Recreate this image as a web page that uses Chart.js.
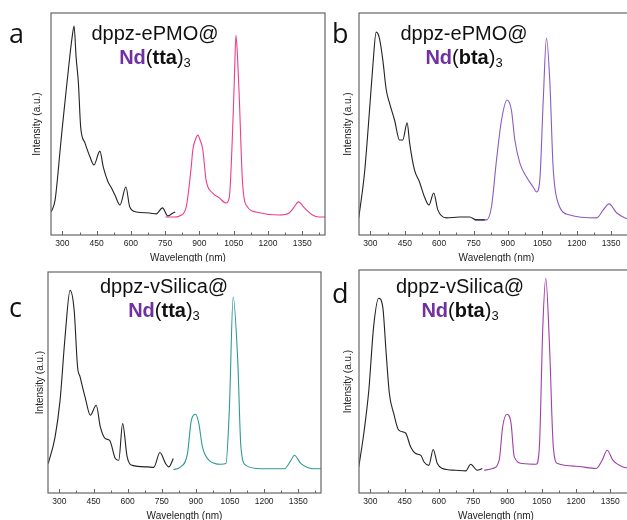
<!DOCTYPE html>
<html>
<head>
<meta charset="utf-8">
<script src="https://cdn.jsdelivr.net/npm/chart.js@4.4.1/dist/chart.umd.min.js"></script>
<style>
html, body { margin: 0; padding: 0; background: #fff; width: 627px; height: 520px; overflow: hidden; position: relative; }
.box { position: absolute; overflow: hidden; }
</style>
</head>
<body>
<div class="box" style="left:0;top:0;width:335px;height:262px"><canvas id="chartA" width="335" height="266"></canvas></div>
<div class="box" style="left:310px;top:0;width:330px;height:262px"><canvas id="chartB" width="330" height="266"></canvas></div>
<div class="box" style="left:0;top:262px;width:335px;height:261px"><canvas id="chartC" width="335" height="261"></canvas></div>
<div class="box" style="left:310px;top:262px;width:330px;height:261px"><canvas id="chartD" width="330" height="261"></canvas></div>
<script>
// x axis ticks (nm): labelled every 150, small ticks in between
const xTicks = [300, 375, 450, 525, 600, 675, 750, 825, 900, 975, 1050, 1125, 1200, 1275, 1350, 1425];

// a: dppz-ePMO@Nd(tta)3
const waveA_uv = [251, 268, 290, 297, 312, 334, 342, 351, 360, 370, 380, 399, 421, 438, 464, 479, 500, 515, 530, 552, 578, 595, 624, 682, 711, 738, 762, 784, 794];
const intA_uv = [0.104, 0.158, 0.383, 0.459, 0.608, 0.820, 0.887, 0.941, 0.80, 0.685, 0.486, 0.414, 0.351, 0.315, 0.378, 0.306, 0.239, 0.212, 0.180, 0.135, 0.216, 0.126, 0.104, 0.099, 0.095, 0.122, 0.086, 0.099, 0.104];
const waveA_nir = [751, 790, 813, 842, 864, 871, 882, 893, 903, 915, 929, 958, 987, 1017, 1031, 1045, 1053, 1060, 1067, 1075, 1089, 1111, 1147, 1249, 1293, 1315, 1333, 1360, 1395, 1424, 1450];
const intA_nir = [0.081, 0.081, 0.086, 0.126, 0.306, 0.383, 0.428, 0.45, 0.428, 0.383, 0.248, 0.189, 0.167, 0.144, 0.171, 0.459, 0.70, 0.90, 0.80, 0.608, 0.234, 0.126, 0.104, 0.090, 0.099, 0.126, 0.149, 0.122, 0.090, 0.081, 0.081];

// b: dppz-ePMO@Nd(bta)3
const waveB_uv = [249, 274, 296, 310, 325, 339, 354, 369, 383, 405, 427, 441, 460, 471, 492, 514, 536, 555, 576, 594, 631, 689, 733, 762, 799];
const intB_uv = [0.077, 0.279, 0.563, 0.757, 0.914, 0.887, 0.788, 0.653, 0.595, 0.518, 0.428, 0.428, 0.505, 0.414, 0.293, 0.239, 0.171, 0.135, 0.189, 0.113, 0.077, 0.081, 0.081, 0.068, 0.068];
const waveB_nir = [755, 806, 828, 850, 872, 896, 915, 930, 952, 981, 1010, 1025, 1039, 1054, 1068, 1083, 1097, 1119, 1170, 1287, 1316, 1341, 1375, 1411, 1450];
const intB_nir = [0.068, 0.068, 0.126, 0.338, 0.518, 0.608, 0.563, 0.428, 0.324, 0.261, 0.216, 0.194, 0.248, 0.608, 0.887, 0.685, 0.306, 0.144, 0.090, 0.077, 0.113, 0.140, 0.099, 0.077, 0.068];

// c: dppz-vSilica@Nd(tta)3
const waveC_uv = [251, 281, 303, 325, 347, 365, 380, 391, 413, 436, 462, 480, 502, 521, 546, 561, 578, 598, 620, 686, 715, 742, 767, 781, 801];
const intC_uv = [0.133, 0.253, 0.419, 0.706, 0.917, 0.827, 0.570, 0.525, 0.434, 0.352, 0.397, 0.299, 0.246, 0.238, 0.156, 0.148, 0.314, 0.163, 0.125, 0.118, 0.116, 0.183, 0.133, 0.118, 0.156];
const waveC_nir = [801, 833, 863, 880, 899, 913, 929, 958, 1010, 1032, 1047, 1064, 1084, 1098, 1120, 1186, 1289, 1318, 1333, 1362, 1421, 1450];
const intC_nir = [0.106, 0.118, 0.178, 0.329, 0.356, 0.314, 0.208, 0.148, 0.130, 0.133, 0.374, 0.887, 0.600, 0.208, 0.125, 0.110, 0.110, 0.148, 0.171, 0.133, 0.110, 0.110];

// d: dppz-vSilica@Nd(bta)3
const waveD_uv = [249, 271, 293, 314, 336, 354, 369, 383, 402, 424, 454, 476, 498, 521, 535, 556, 575, 593, 615, 674, 718, 739, 768, 790];
const intD_uv = [0.117, 0.267, 0.461, 0.745, 0.873, 0.835, 0.626, 0.446, 0.357, 0.282, 0.269, 0.207, 0.177, 0.169, 0.139, 0.124, 0.195, 0.132, 0.110, 0.102, 0.099, 0.129, 0.102, 0.110];
const waveD_nir = [798, 835, 864, 879, 898, 916, 930, 967, 1026, 1040, 1055, 1068, 1084, 1101, 1120, 1201, 1289, 1315, 1337, 1362, 1406, 1450];
const intD_nir = [0.102, 0.110, 0.147, 0.296, 0.353, 0.312, 0.162, 0.132, 0.129, 0.207, 0.745, 0.963, 0.671, 0.207, 0.132, 0.120, 0.110, 0.147, 0.192, 0.147, 0.117, 0.111];

const toXY = (xs, ys) => xs.map((x, i) => ({ x: x, y: ys[i] }));

// frame box + inward tick marks
const framePlugin = {
    id: 'frame',
    afterDatasetsDraw(chart) {
        const ctx = chart.ctx;
        const a = chart.chartArea;
        const xs = chart.scales.x;
        ctx.save();
        ctx.strokeStyle = '#666';
        ctx.lineWidth = 1.2;
        ctx.strokeRect(a.left, a.top, a.right - a.left, a.bottom - a.top);
        ctx.lineWidth = 1;
        xs.ticks.forEach(t => {
            const px = Math.round(xs.getPixelForValue(t.value)) + 0.5;
            const len = t.value % 150 === 0 ? 4 : 2.5;
            ctx.beginPath();
            ctx.moveTo(px, a.bottom);
            ctx.lineTo(px, a.bottom - len);
            ctx.stroke();
        });
        ctx.restore();
    }
};

// panel letter and two-line sample name
const labelPlugin = {
    id: 'panelLabel',
    afterDraw(chart) {
        const o = chart.options.plugins.panelLabel;
        const ctx = chart.ctx;
        ctx.save();
        ctx.textBaseline = 'alphabetic';
        ctx.fillStyle = '#111';
        ctx.font = '27px "Open Sans", "Noto Sans", sans-serif';
        ctx.textAlign = 'left';
        ctx.fillText(o.letter, o.letterX, o.letterY);

        ctx.font = '20px "Liberation Sans", Arial, sans-serif';
        ctx.textAlign = 'center';
        ctx.fillText(o.host, o.cx, o.y1);

        const parts = [
            { t: 'Nd', f: 'bold 20px "Liberation Sans", Arial, sans-serif', c: '#7030a0', dy: 0 },
            { t: '(', f: '20px "Liberation Sans", Arial, sans-serif', c: '#111', dy: 0 },
            { t: o.ligand, f: 'bold 20px "Liberation Sans", Arial, sans-serif', c: '#111', dy: 0 },
            { t: ')', f: '20px "Liberation Sans", Arial, sans-serif', c: '#111', dy: 0 },
            { t: '3', f: '13px "Liberation Sans", Arial, sans-serif', c: '#111', dy: 3 }
        ];
        let total = 0;
        parts.forEach(p => { ctx.font = p.f; p.w = ctx.measureText(p.t).width; total += p.w; });
        let x = o.cx - total / 2;
        ctx.textAlign = 'left';
        parts.forEach(p => {
            ctx.font = p.f;
            ctx.fillStyle = p.c;
            ctx.fillText(p.t, x, o.y2 + p.dy);
            x += p.w;
        });
        ctx.restore();
    }
};

function makePanel(id, uvX, uvY, nirX, nirY, nirColor, lay, lab) {
    new Chart(document.getElementById(id), {
        type: 'line',
        data: {
            datasets: [
                { data: toXY(uvX, uvY), borderColor: '#222' },
                { data: toXY(nirX, nirY), borderColor: nirColor }
            ]
        },
        options: {
            responsive: false,
            animation: false,
            events: [],
            layout: { padding: { left: lay.padL, right: lay.padR, top: lay.padT, bottom: 0 } },
            elements: {
                point: { radius: 0 },
                line: { borderWidth: 1.1, tension: 0.4, cubicInterpolationMode: 'monotone', fill: false }
            },
            scales: {
                x: {
                    type: 'linear',
                    min: 250,
                    max: 1450,
                    afterBuildTicks: s => { s.ticks = xTicks.map(v => ({ value: v })); },
                    afterFit: s => { s.height = lay.xH; },
                    grid: { display: false, drawTicks: false },
                    border: { display: false },
                    ticks: {
                        autoSkip: false,
                        maxRotation: 0,
                        padding: 4,
                        color: '#222',
                        font: { family: '"Liberation Sans", Arial, sans-serif', size: 8.5 },
                        callback: v => (v % 150 === 0 ? String(v) : '')
                    },
                    title: {
                        display: true,
                        text: 'Wavelength (nm)',
                        color: '#222',
                        padding: { top: 0, bottom: lay.xTitlePad },
                        font: { family: '"Liberation Sans", Arial, sans-serif', size: 10 }
                    }
                },
                y: {
                    min: 0,
                    max: 1,
                    afterFit: s => { s.width = lay.yW; },
                    grid: { display: false, drawTicks: false },
                    border: { display: false },
                    ticks: { display: false },
                    title: {
                        display: true,
                        text: 'Intensity (a.u.)',
                        color: '#222',
                        padding: 0,
                        font: { family: '"Liberation Sans", Arial, sans-serif', size: 10 }
                    }
                }
            },
            plugins: {
                legend: { display: false },
                tooltip: { enabled: false },
                panelLabel: lab
            }
        },
        plugins: [framePlugin, labelPlugin]
    });
}

makePanel('chartA', waveA_uv, intA_uv, waveA_nir, intA_nir, '#ee3d8c',
    { padL: 31, yW: 20, padR: 10, padT: 13, xH: 31, xTitlePad: 2 },
    { letter: 'a', letterX: 9, letterY: 43, host: 'dppz-ePMO@', ligand: 'tta', cx: 155, y1: 40, y2: 64 });

makePanel('chartB', waveB_uv, intB_uv, waveB_nir, intB_nir, '#8a5cc0',
    { padL: 32, yW: 17, padR: 6, padT: 13, xH: 31, xTitlePad: 2 },
    { letter: 'b', letterX: 22, letterY: 43, host: 'dppz-ePMO@', ligand: 'bta', cx: 154, y1: 40, y2: 64 });

makePanel('chartC', waveC_uv, intC_uv, waveC_nir, intC_nir, '#2e9a96',
    { padL: 34, yW: 14, padR: 14, padT: 10, xH: 30, xTitlePad: 1 },
    { letter: 'c', letterX: 9, letterY: 55, host: 'dppz-vSilica@', ligand: 'tta', cx: 164, y1: 31, y2: 55 });

makePanel('chartD', waveD_uv, intD_uv, waveD_nir, intD_nir, '#a040a8',
    { padL: 32, yW: 17, padR: 7, padT: 8, xH: 30, xTitlePad: 1 },
    { letter: 'd', letterX: 22, letterY: 41, host: 'dppz-vSilica@', ligand: 'bta', cx: 150, y1: 31, y2: 55 });
</script>
</body>
</html>
